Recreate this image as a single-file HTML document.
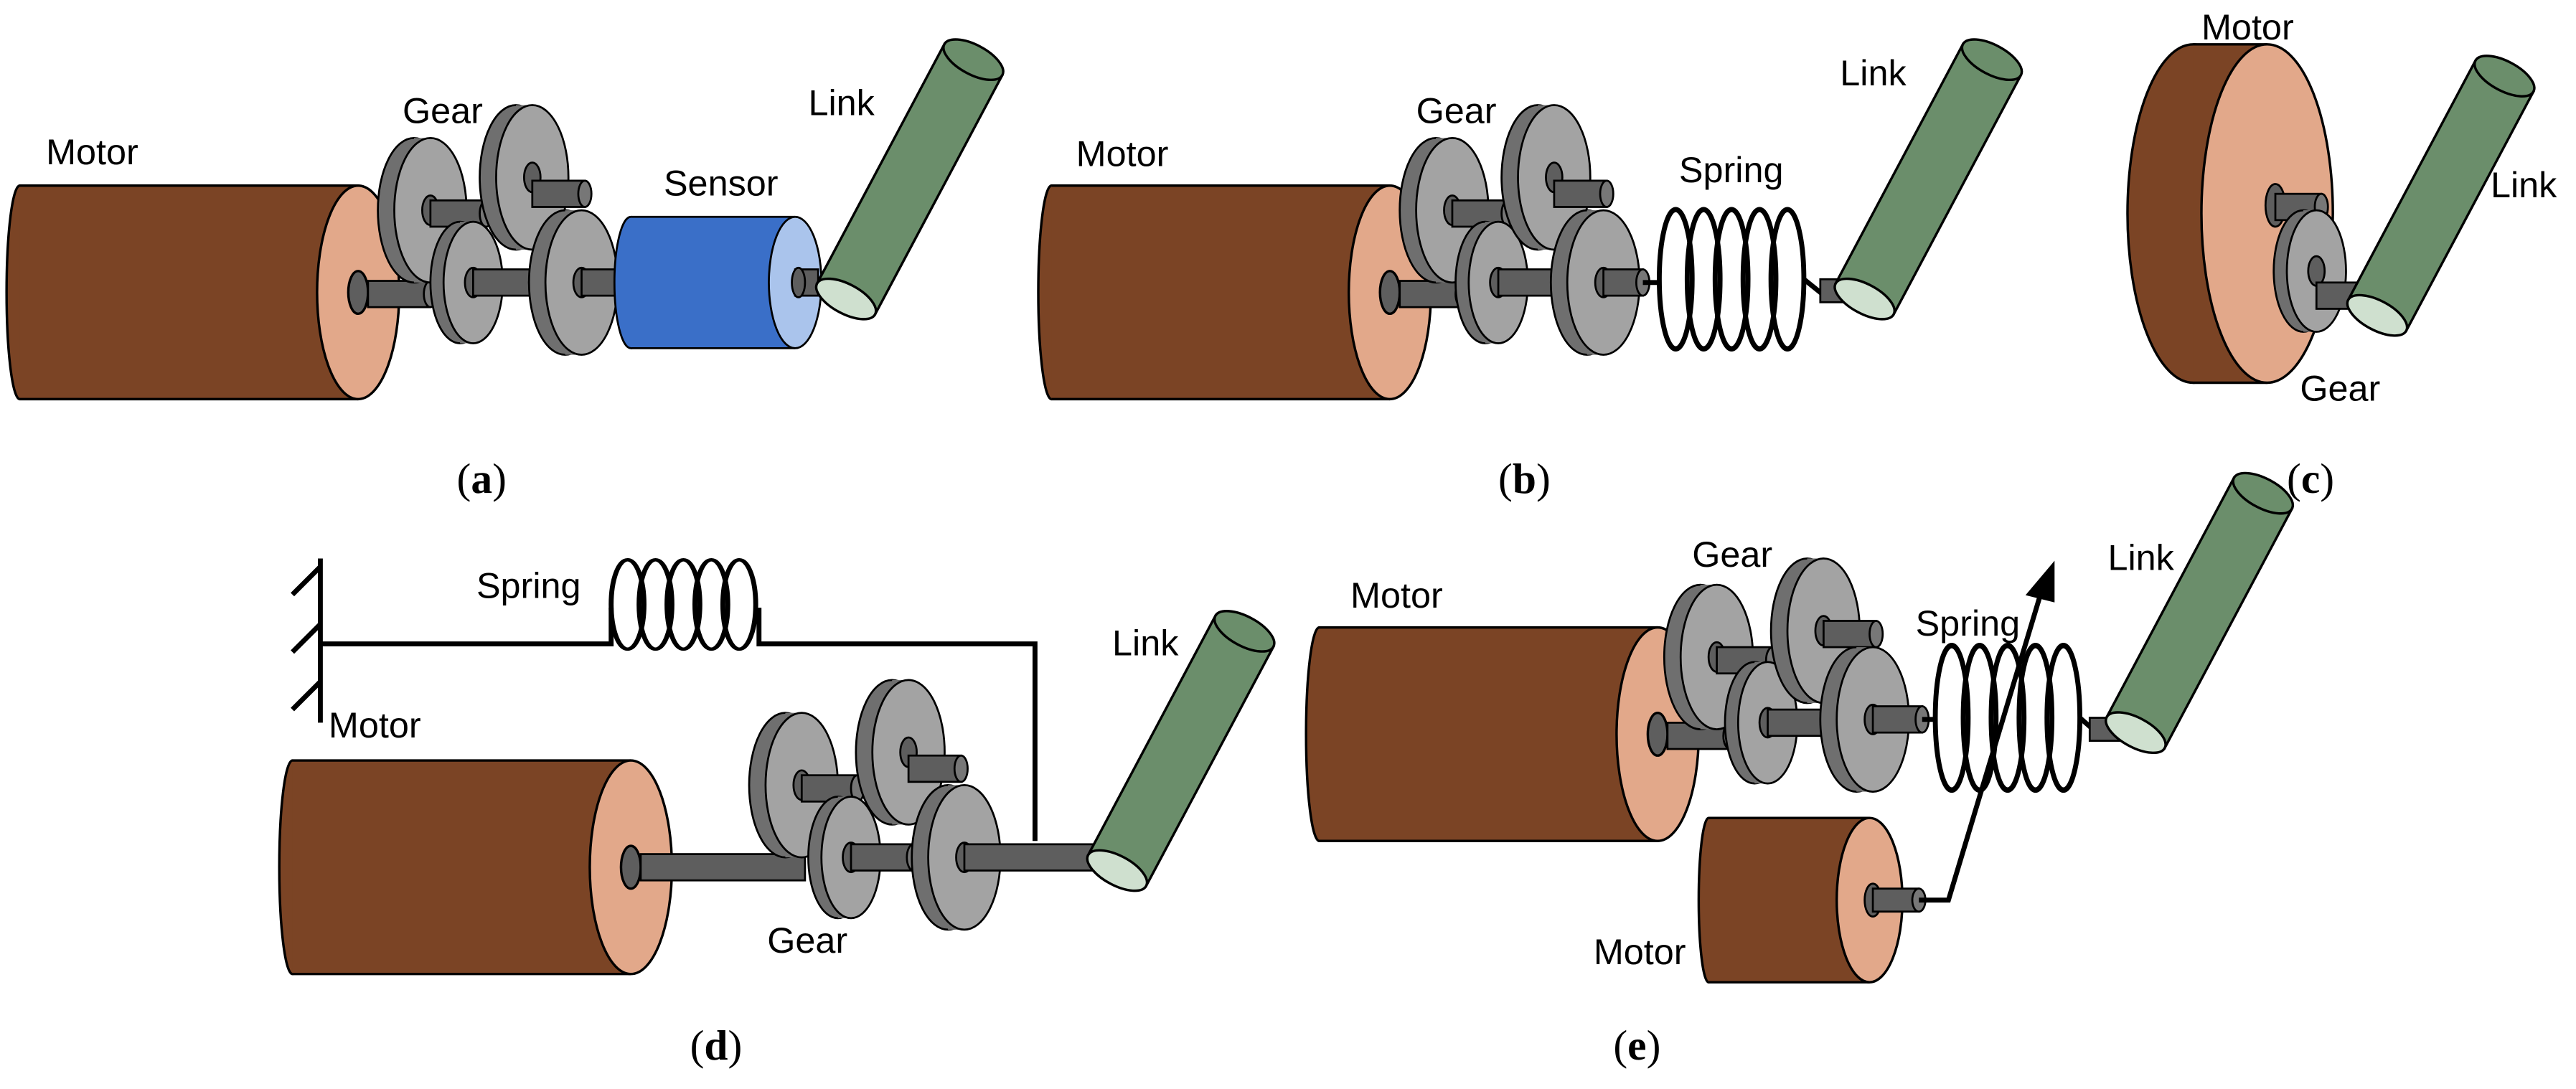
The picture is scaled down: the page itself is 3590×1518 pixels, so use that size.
<!DOCTYPE html>
<html><head><meta charset="utf-8"><style>
html,body{margin:0;padding:0;background:#fff;}
svg{display:block;}
text{font-family:"Liberation Sans",sans-serif;font-size:22px;fill:#000;}
text.cap{font-family:"Liberation Serif",serif;font-size:26px;}
</style></head><body>
<svg width="3590" height="1518" viewBox="0 0 1568 663" xmlns="http://www.w3.org/2000/svg">
<defs>
<g id="gearB" stroke="#000" stroke-width="1.2">
  <ellipse cx="-10" cy="0" rx="22" ry="44" fill="#6f6f6f"/>
  <rect x="-10" y="-44" width="10" height="88" fill="#6f6f6f" stroke="none"/>
  <ellipse cx="0" cy="0" rx="22" ry="44" fill="#a3a3a3"/>
  <ellipse cx="0" cy="0" rx="5" ry="9" fill="#5e5e5e"/>
</g>
<g id="gearS" stroke="#000" stroke-width="1.2">
  <ellipse cx="-8" cy="0" rx="18" ry="37" fill="#6f6f6f"/>
  <rect x="-8" y="-37" width="8" height="74" fill="#6f6f6f" stroke="none"/>
  <ellipse cx="0" cy="0" rx="18" ry="37" fill="#a3a3a3"/>
  <ellipse cx="0" cy="0" rx="5" ry="9" fill="#5e5e5e"/>
</g>
<g id="link" stroke="#000" stroke-width="1.5">
  <rect x="0" y="-20" width="165" height="40" fill="#6b8e6b"/>
  <ellipse cx="165" cy="0" rx="9" ry="20" fill="#6b8e6b"/>
  <ellipse cx="0" cy="0" rx="9" ry="20" fill="#cfe0cf"/>
</g>
<g id="motor" stroke="#000" stroke-width="1.5">
  <ellipse cx="0" cy="0" rx="8" ry="65" fill="#7b4425"/>
  <rect x="0" y="-65" width="206" height="130" fill="#7b4425" stroke="none"/>
  <line x1="0" y1="-65" x2="206" y2="-65"/>
  <line x1="0" y1="65" x2="206" y2="65"/>
  <ellipse cx="206" cy="0" rx="25" ry="65" fill="#e2a88a"/>
  <ellipse cx="206" cy="0" rx="6" ry="13" fill="#5e5e5e"/>
</g>
<g id="spring" fill="none" stroke="#000" stroke-width="3">
  <ellipse cx="10" cy="0" rx="10" ry="40"/>
  <ellipse cx="27" cy="0" rx="10" ry="40"/>
  <ellipse cx="44" cy="0" rx="10" ry="40"/>
  <ellipse cx="61" cy="0" rx="10" ry="40"/>
  <ellipse cx="78" cy="0" rx="10" ry="40"/>
</g>
</defs>
<g stroke="#000" stroke-width="1.2">
<!-- (a) -->
<use href="#motor" x="12" y="178"/>
<rect x="224" y="171" width="38" height="16" fill="#5e5e5e"/><ellipse cx="262" cy="179" rx="4" ry="8" fill="#777"/>
<use href="#gearB" x="262" y="128"/>
<rect x="262" y="122" width="34" height="16" fill="#5e5e5e"/><ellipse cx="296" cy="130" rx="4" ry="8" fill="#777"/>
<use href="#gearS" x="288" y="172"/>
<rect x="288" y="164" width="38" height="16" fill="#5e5e5e"/><ellipse cx="326" cy="172" rx="4" ry="8" fill="#777"/>
<use href="#gearB" x="324" y="108"/>
<rect x="324" y="110" width="32" height="16" fill="#5e5e5e"/><ellipse cx="356" cy="118" rx="4" ry="8" fill="#777"/>
<use href="#gearB" x="354" y="172"/>
<rect x="354" y="164" width="30" height="16" fill="#5e5e5e"/>
<ellipse cx="384" cy="172" rx="10" ry="40" fill="#3a6fc8"/>
<rect x="384" y="132" width="100" height="80" fill="#3a6fc8" stroke="none"/>
<line x1="384" y1="132" x2="484" y2="132"/><line x1="384" y1="212" x2="484" y2="212"/>
<ellipse cx="484" cy="172" rx="16" ry="40" fill="#aac4ec"/>
<rect x="484" y="164" width="14" height="16" fill="#5e5e5e"/><ellipse cx="486" cy="172" rx="4" ry="9" fill="#5e5e5e"/>
<use href="#link" transform="translate(515,182) rotate(-62)"/>
<!-- (b) -->
<use href="#motor" x="640" y="178"/>
<rect x="852" y="171" width="38" height="16" fill="#5e5e5e"/><ellipse cx="890" cy="179" rx="4" ry="8" fill="#777"/>
<use href="#gearB" x="884" y="128"/>
<rect x="884" y="122" width="34" height="16" fill="#5e5e5e"/><ellipse cx="918" cy="130" rx="4" ry="8" fill="#777"/>
<use href="#gearS" x="912" y="172"/>
<rect x="912" y="164" width="38" height="16" fill="#5e5e5e"/><ellipse cx="950" cy="172" rx="4" ry="8" fill="#777"/>
<use href="#gearB" x="946" y="108"/>
<rect x="946" y="110" width="32" height="16" fill="#5e5e5e"/><ellipse cx="978" cy="118" rx="4" ry="8" fill="#777"/>
<use href="#gearB" x="976" y="172"/>
<rect x="976" y="164" width="24" height="16" fill="#5e5e5e"/><ellipse cx="1000" cy="172" rx="4" ry="8" fill="#777"/>
<path d="M1000 172 H1010" stroke-width="3"/>
<use href="#spring" transform="translate(1010,170) scale(1,1.06)"/>
<path d="M1098 170 L1108 178 H1120" fill="none" stroke-width="3"/>
<rect x="1108" y="170" width="20" height="14" fill="#5e5e5e"/>
<use href="#link" transform="translate(1135,182) rotate(-62)"/>
<!-- (c) -->
<ellipse cx="1335" cy="130" rx="40" ry="103" fill="#7b4425" stroke-width="1.5"/>
<rect x="1335" y="27" width="45" height="206" fill="#7b4425" stroke="none"/>
<line x1="1335" y1="27" x2="1380" y2="27" stroke-width="1.5"/><line x1="1335" y1="233" x2="1380" y2="233" stroke-width="1.5"/>
<ellipse cx="1380" cy="130" rx="40" ry="103" fill="#e2a88a" stroke-width="1.5"/>
<ellipse cx="1385" cy="125" rx="6" ry="13" fill="#5e5e5e"/>
<rect x="1385" y="118" width="28" height="16" fill="#5e5e5e"/><ellipse cx="1413" cy="126" rx="4" ry="8" fill="#777"/>
<use href="#gearS" x="1410" y="165"/>
<rect x="1410" y="172" width="28" height="16" fill="#5e5e5e"/>
<use href="#link" transform="translate(1447,192) rotate(-62)"/>
<!-- (d) -->
<g stroke-width="3" fill="none">
<path d="M195 340 V440"/>
<path d="M195 345 L178 362 M195 380 L178 397 M195 415 L178 432"/>
<path d="M195 392 H372 V370"/>
<path d="M462 370 V392 H630 V512"/>
</g>
<use href="#spring" transform="translate(372,368) scale(1,0.68)"/>
<use href="#motor" x="178" y="528"/>
<rect x="390" y="520" width="100" height="16" fill="#5e5e5e"/>
<use href="#gearB" x="488" y="478"/>
<rect x="488" y="472" width="34" height="16" fill="#5e5e5e"/><ellipse cx="522" cy="480" rx="4" ry="8" fill="#777"/>
<use href="#gearS" x="518" y="522"/>
<rect x="518" y="514" width="38" height="16" fill="#5e5e5e"/><ellipse cx="556" cy="522" rx="4" ry="8" fill="#777"/>
<use href="#gearB" x="553" y="458"/>
<rect x="553" y="460" width="32" height="16" fill="#5e5e5e"/><ellipse cx="585" cy="468" rx="4" ry="8" fill="#777"/>
<use href="#gearB" x="587" y="522"/>
<rect x="587" y="514" width="80" height="16" fill="#5e5e5e"/>
<use href="#link" transform="translate(680,530) rotate(-62)"/>
<!-- (e) -->
<use href="#motor" x="803" y="447"/>
<rect x="1015" y="440" width="38" height="16" fill="#5e5e5e"/><ellipse cx="1053" cy="448" rx="4" ry="8" fill="#777"/>
<use href="#gearB" x="1045" y="400"/>
<rect x="1045" y="394" width="34" height="16" fill="#5e5e5e"/><ellipse cx="1079" cy="402" rx="4" ry="8" fill="#777"/>
<use href="#gearS" x="1076" y="440"/>
<rect x="1076" y="432" width="38" height="16" fill="#5e5e5e"/><ellipse cx="1114" cy="440" rx="4" ry="8" fill="#777"/>
<use href="#gearB" x="1110" y="384"/>
<rect x="1110" y="378" width="32" height="16" fill="#5e5e5e"/><ellipse cx="1142" cy="386" rx="4" ry="8" fill="#777"/>
<use href="#gearB" x="1140" y="438"/>
<rect x="1140" y="430" width="30" height="16" fill="#5e5e5e"/><ellipse cx="1170" cy="438" rx="4" ry="8" fill="#777"/>
<use href="#spring" transform="translate(1178,437) scale(1,1.1)"/>
<path d="M1170 438 H1178 M1266 437 L1274 444 H1282" fill="none" stroke-width="3"/>
<rect x="1272" y="437" width="18" height="14" fill="#5e5e5e"/>
<use href="#link" transform="translate(1300,446) rotate(-62)"/>
<ellipse cx="1040" cy="548" rx="6" ry="50" fill="#7b4425" stroke-width="1.5"/>
<rect x="1040" y="498" width="98" height="100" fill="#7b4425" stroke="none"/>
<line x1="1040" y1="498" x2="1138" y2="498" stroke-width="1.5"/><line x1="1040" y1="598" x2="1138" y2="598" stroke-width="1.5"/>
<ellipse cx="1138" cy="548" rx="20" ry="50" fill="#e2a88a" stroke-width="1.5"/>
<ellipse cx="1140" cy="548" rx="5" ry="10" fill="#5e5e5e"/>
<rect x="1140" y="541" width="28" height="14" fill="#5e5e5e"/><ellipse cx="1168" cy="548" rx="4" ry="7" fill="#777"/>
<path d="M1168 548 H1186 L1242 362" fill="none" stroke-width="3"/>
<path d="M1250 343 L1234 362 L1250 366 Z" fill="#000"/>
</g>
<text x="28" y="100">Motor</text>
<text x="245" y="75">Gear</text>
<text x="404" y="119">Sensor</text>
<text x="492" y="70">Link</text>
<text class="cap" x="278" y="300">(<tspan font-weight="bold">a</tspan>)</text>
<text x="655" y="101">Motor</text>
<text x="862" y="75">Gear</text>
<text x="1022" y="111">Spring</text>
<text x="1120" y="52">Link</text>
<text class="cap" x="912" y="300">(<tspan font-weight="bold">b</tspan>)</text>
<text x="1340" y="24">Motor</text>
<text x="1516" y="120">Link</text>
<text x="1400" y="244">Gear</text>
<text class="cap" x="1392" y="300">(<tspan font-weight="bold">c</tspan>)</text>
<text x="290" y="364">Spring</text>
<text x="200" y="449">Motor</text>
<text x="467" y="580">Gear</text>
<text x="677" y="399">Link</text>
<text class="cap" x="420" y="645">(<tspan font-weight="bold">d</tspan>)</text>
<text x="1030" y="345">Gear</text>
<text x="822" y="370">Motor</text>
<text x="1166" y="387">Spring</text>
<text x="1283" y="347">Link</text>
<text x="970" y="587">Motor</text>
<text class="cap" x="982" y="645">(<tspan font-weight="bold">e</tspan>)</text>
</svg>
</body></html>
